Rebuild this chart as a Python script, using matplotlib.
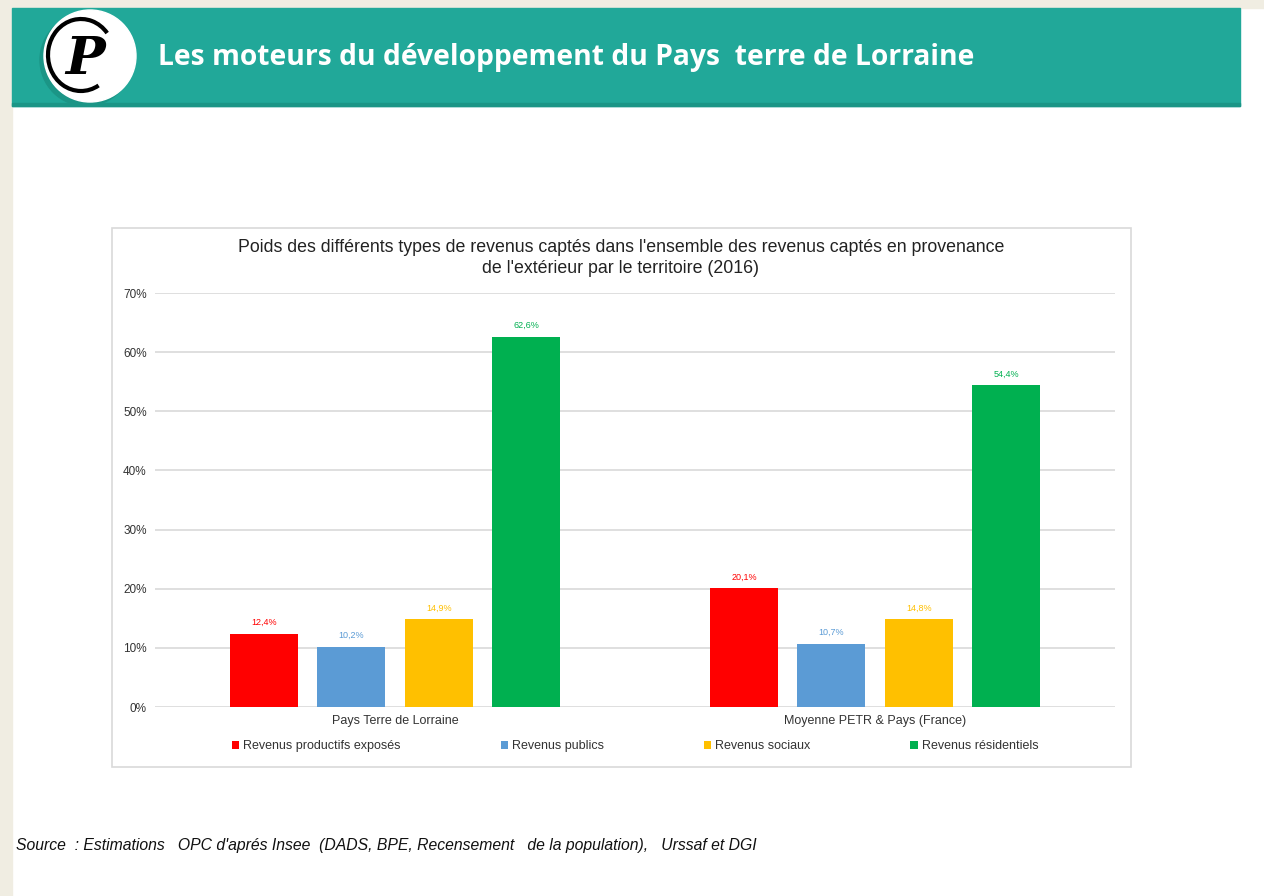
import matplotlib.pyplot as plt
import matplotlib.patches as mpatches
import numpy as np

categories = ["Pays Terre de Lorraine", "Moyenne PETR & Pays (France)"]
series_names = ["Revenus productifs exposés", "Revenus publics", "Revenus sociaux", "Revenus résidentiels"]
productifs = [12.4, 20.1]
publics = [10.2, 10.7]
sociaux = [14.9, 14.8]
residentiels = [62.6, 54.4]
colors = ["#FF0000", "#5B9BD5", "#FFC000", "#00B050"]

header = "Les moteurs du développement du Pays  terre de Lorraine"
chart_title = ("Poids des différents types de revenus captés dans l'ensemble des revenus captés en provenance\n"
               "de l'extérieur par le territoire (2016)")
source = "Source  : Estimations   OPC d'aprés Insee  (DADS, BPE, Recensement   de la population),   Urssaf et DGI"

W, H = 1264, 896
fig = plt.figure(figsize=(W / 100, H / 100), dpi=100, facecolor="white")

def px(x, y, w, h):
    # pixel box (top-left origin) -> figure fraction
    return (x / W, 1 - (y + h) / H, w / W, h / H)

def fig_rect(x, y, w, h, **kw):
    a, b, c, d = px(x, y, w, h)
    fig.patches.append(mpatches.Rectangle((a, b), c, d, transform=fig.transFigure, zorder=-5, **kw))

# page background strips
fig_rect(0, 0, W, 8, color="#F0EDE2")
fig_rect(0, 0, 12, H, color="#F0EDE2")

# teal banner
fig_rect(12, 8, 1228, 98, color="#21A899")
fig_rect(12, 103, 1228, 3, color="#1B9586")

# chart frame
fig_rect(112, 228, 1019, 539, facecolor="white", edgecolor="#D9D9D9", lw=1.2)

# logo, drawn in pixel units
lax = fig.add_axes(px(30, 0, 120, 112))
lax.set_zorder(5)
lax.set_xlim(30, 150)
lax.set_ylim(112, 0)
lax.set_aspect("equal")
lax.axis("off")
lax.add_patch(mpatches.Circle((86, 60), 46, color="#1B9586", zorder=1))
lax.add_patch(mpatches.Circle((90, 56), 46, color="white", zorder=2))
lax.add_patch(mpatches.Arc((81, 55), 66, 72, theta1=-300, theta2=-40, lw=3.0, color="black", zorder=3))
lax.text(85, 60, "P", family="DejaVu Serif", fontsize=38, fontweight="bold", style="italic",
         ha="center", va="center", color="black", zorder=4)

fig.text(158 / W, 1 - 58 / H, header, color="white", fontsize=20.3, fontweight="bold",
         family="Open Sans", ha="left", va="center")

fig.text(621 / W, 1 - 258 / H, chart_title, ha="center", va="center", fontsize=12.8,
         family="Liberation Sans", linespacing=1.35, color="#222222")

ax = fig.add_axes(px(155, 293, 960, 414))
ax.set_zorder(2)
ax.set_facecolor("none")
values = [productifs, publics, sociaux, residentiels]
x = np.arange(len(categories))
step = 0.182
width = 0.142
for i, (vals, col, name) in enumerate(zip(values, colors, series_names)):
    pos = x + (i - 1.5) * step
    bars = ax.bar(pos, vals, width, color=col, label=name, zorder=3)
    for b, v in zip(bars, vals):
        ax.text(b.get_x() + b.get_width() / 2, v + 1.1, f"{v:.1f}%".replace(".", ","),
                ha="center", va="bottom", fontsize=6.5, color=col, family="Liberation Sans")

ax.set_xlim(-0.5, 1.5)
ax.set_ylim(0, 70)
ax.set_yticks(np.arange(0, 71, 10))
ax.set_yticklabels([f"{t}%" for t in range(0, 71, 10)], fontsize=8.5, family="Liberation Sans", color="#333333")
ax.set_xticks(x)
ax.set_xticklabels(categories, fontsize=9, family="Liberation Sans", color="#333333")
ax.tick_params(axis="y", length=0, pad=6)
ax.tick_params(axis="x", length=0, pad=6)
ax.grid(axis="y", color="#D9D9D9", lw=1.2, zorder=0)
for s in ax.spines.values():
    s.set_visible(False)

leg = ax.legend(loc="center", bbox_to_anchor=(0.5, -0.095), ncol=4, frameon=False,
                prop={"family": "Liberation Sans", "size": 9}, handlelength=0.6, handleheight=0.6,
                handletextpad=0.3, columnspacing=8.0)
for t in leg.get_texts():
    t.set_color("#333333")

fig.text(16 / W, 1 - 845 / H, source, fontsize=11.3, style="italic", family="Liberation Sans",
         ha="left", va="center", color="#111111")

fig.savefig("out.png", dpi=100, facecolor=fig.get_facecolor())
